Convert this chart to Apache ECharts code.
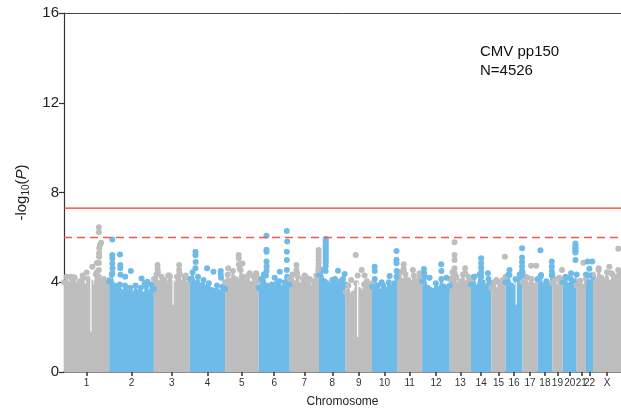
<!DOCTYPE html>
<html><head><meta charset="utf-8">
<script src="https://cdn.jsdelivr.net/npm/echarts@6/dist/echarts.min.js"></script>
<style>html,body{margin:0;padding:0;background:#fff}#c{width:621px;height:415px}</style>
</head><body><div id="c"></div>
<script>
const chromNames = ['1','2','3','4','5','6','7','8','9','10','11','12','13','14','15','16','17','18','19','20','21','22','X'];
const chromLen = [249,246,198,194,185,171,161,147,145,138,138,152,117,112,79,93,83,80,58,77,51,39,154];
const bulkTop = [
  [4.0,4.25,3.9,4.15,4.2,3.85,4.05,4.3,3.8,4.15,4.0,3.75,4.35,4.05,3.9,4.15,4.0,4.1],
  [4.05,4.35,3.85,3.7,3.9,3.55,3.85,3.65,3.75,3.5,3.85,3.55,3.75,3.45,3.8,3.55,3.9,3.7],
  [4.15,4.35,3.95,4.25,4.1,3.9,4.3,4.0,3.85,4.25,4.35,3.95,4.2,3.9,4.15],
  [4.15,4.45,3.95,4.25,3.85,4.1,3.75,3.95,3.65,3.6,3.85,3.55,3.8,3.7],
  [4.0,4.35,4.05,4.5,4.15,3.95,4.55,4.25,4.05,4.3,3.9,4.25,4.4,4.1],
  [3.75,4.15,4.35,3.85,3.65,3.9,3.7,3.95,4.05,3.75,4.0,4.25,3.9],
  [4.15,4.35,3.95,4.25,3.85,4.15,4.25,3.9,3.75,4.05,4.3,4.45],
  [4.35,4.55,4.05,3.95,3.85,4.1,4.15,3.9,4.05,4.15,3.9],
  [3.55,3.85,3.35,3.5,3.95,3.65,3.5,3.9,4.05,3.8,3.95],
  [3.8,4.15,3.85,3.6,3.85,3.65,4.0,3.75,3.95,4.25],
  [4.25,4.45,4.05,4.35,4.1,3.95,4.3,4.05,4.25,4.0],
  [4.05,4.25,3.75,3.65,3.6,3.95,3.7,4.15,3.8,3.65,3.85],
  [4.15,4.45,4.2,3.85,4.05,4.35,3.95,4.25,4.1],
  [3.9,4.25,3.75,4.35,4.0,3.8,4.15,3.95],
  [3.75,4.0,3.65,3.9,4.1,4.25],
  [4.0,4.35,3.85,3.75,4.05,4.35,4.45],
  [4.0,4.25,3.9,4.15,3.85,4.1],
  [4.15,4.25,3.85,4.05,3.9,4.35],
  [3.95,4.15,3.8,4.05,4.1],
  [4.0,4.25,3.85,4.15,4.0,4.35],
  [3.85,4.05,3.8,4.15],
  [4.35,4.0,4.25],
  [4.35,4.0,4.55,4.2,4.05,4.45,3.95,4.35,4.2,4.55,4.4]
];
// [chromosome index, position (Mb), -log10(P)]
const peakSnps = [
  [0,192,6.45],[0,192,6.23],[0,204,5.76],[0,198,5.66],[0,194,5.52],[0,193,5.29],[0,193,5.14],[0,192,4.86],[0,192,4.55],[0,192,4.25],[0,181,4.86],[0,181,4.45],[0,156,4.69],[0,37,4.25],[0,53,4.22],[0,107,4.2],[0,125,4.43],
  [1,17,5.91],[1,17,5.21],[1,17,5.07],[1,17,4.84],[1,18,4.62],[1,17,4.4],[1,59,5.24],[1,61,4.77],[1,61,4.62],[1,62,4.33],[1,88,4.25],[1,119,4.5],[1,178,4.17],[1,210,4.02],[1,195,3.95],
  [2,20,4.77],[2,20,4.6],[2,22,4.45],[2,79,4.3],[2,88,4.25],[2,139,4.77],[2,139,4.55],[2,141,4.4],[2,176,4.3],
  [3,31,5.36],[3,31,5.2],[3,32,4.9],[3,31,4.62],[3,95,4.62],[3,130,4.47],[3,170,4.5],[3,170,4.35],[3,172,4.2],
  [4,75,5.21],[4,75,5.07],[4,76,4.8],[4,96,4.84],[4,17,4.62],[4,173,4.32],[4,136,4.4],[4,80,4.6],
  [5,43,6.07],[5,43,5.45],[5,43,5.36],[5,43,4.92],[5,44,4.7],[5,43,4.5],[5,116,4.47],[5,155,6.28],[5,157,5.82],[5,155,5.36],[5,155,4.99],[5,155,4.55],[5,88,4.2],[5,40,4.3],
  [6,37,4.77],[6,37,4.55],[6,40,4.4],[6,82,4.3],[6,110,4.15],[6,159,5.44],[6,159,5.3],[6,159,5.15],[6,159,5.0],[6,159,4.85],[6,159,4.7],[6,157,4.55],
  [7,37,5.93],[7,37,5.85],[7,37,5.75],[7,37,5.65],[7,37,5.55],[7,37,5.45],[7,37,5.35],[7,37,5.25],[7,37,5.15],[7,37,5.05],[7,37,4.95],[7,37,4.86],[7,37,4.7],[7,37,4.5],[7,105,4.51],[7,141,4.37],
  [8,55,5.21],[8,66,4.3],[8,88,4.55],[8,104,4.3],[8,30,4.1],
  [9,14.5,4.69],[9,15,4.5],[9,53,4.0],[9,97,4.28],[9,135,5.39],[9,135,5.0],[9,135,4.85],[9,136,4.5],[9,135,4.25],
  [10,36,4.8],[10,36,4.6],[10,37,4.47],[10,87,4.55],[10,124,4.4],
  [11,10,4.59],[11,11,4.4],[11,105,4.8],[11,106,4.5],[11,41,4.2],[11,134,4.2],
  [12,26.5,5.78],[12,26.5,5.21],[12,26.5,4.99],[12,26.5,4.62],[12,27,4.4],[12,36,4.25],[12,85,4.62],[12,85,4.4],
  [13,56,5.07],[13,56,4.85],[13,56,4.65],[13,56,4.45],[13,56,4.25],[13,20,4.25],[13,93,4.4],
  [14,75,5.14],[14,41,4.0],[14,28,4.1],
  [15,90,5.52],[15,90,5.1],[15,90,4.9],[15,90,4.7],[15,90,4.5],[15,90,4.3],[15,21,4.55],[15,21,4.32],[15,54,4.15],
  [16,47,4.74],[16,75,4.74],[16,27,4.2],
  [17,15.5,5.43],[17,19,4.32],[17,78,4.92],[17,78,4.7],[17,78,4.5],[17,78,4.3],
  [18,40,4.2],[18,54,4.55],
  [19,70,5.73],[19,70,5.66],[19,70,5.59],[19,70,5.52],[19,70,5.45],[19,70,5.38],[19,70,5.33],[19,70,4.99],[19,46,4.4],[19,26,4.2],
  [20,37,4.87],[20,19,4.07],
  [21,10,4.92],[21,35,4.92],[21,19,4.6],[21,19,4.3],
  [22,31,4.62],[22,90,4.69],[22,139,5.49],[22,101,4.4]
];
// data gaps inside the dense mass: [chromosome index, position, low, high]
const dataGaps = [[0,148,1.8,4.3],[8,66,1.56,4.0],[2,106,3.0,4.2],[15,58,3.0,4.3]];
const yTicks = [0,4,8,12,16];
const thresholds = [7.3, 6.0];
const annotation = ['CMV pp150','N=4526'];
const colors = ['#bebebe','#6ebbe9'];

const starts = [];
let acc = 0;
chromLen.forEach(l => { starts.push(acc); acc += l; });
const total = acc;
const centers = chromLen.map((l,i) => starts[i] + l/2);

const series = [];
bulkTop.forEach((vals,i) => {
  const n = vals.length;
  const data = vals.map((v,k) => [starts[i] + chromLen[i]*k/(n-1), v]);
  series.push({
    type:'line', data, silent:true, animation:false,
    symbol:'circle', symbolSize:6, showSymbol:true, showAllSymbol:true,
    itemStyle:{color:colors[i%2]}, lineStyle:{color:colors[i%2], width:1},
    areaStyle:{color:colors[i%2], opacity:1}, z:2
  });
});
dataGaps.forEach(g => {
  series.push({type:'line', data:[[starts[g[0]]+g[1], g[2]],[starts[g[0]]+g[1], g[3]]],
    symbol:'none', silent:true, animation:false, lineStyle:{color:'#fff', width:1.2}, z:3});
});
[0,1].forEach(c => {
  series.push({
    type:'scatter', animation:false, silent:true, z:4,
    symbolSize:6, itemStyle:{color:colors[c], opacity:1},
    data: peakSnps.filter(p => p[0]%2===c).map(p => [starts[p[0]]+p[1], p[2]])
  });
});
series.push({
  type:'line', silent:true, animation:false, z:5, symbol:'none',
  data:[[0,thresholds[0]],[total,thresholds[0]]],
  itemStyle:{color:'#f2382a'},
  lineStyle:{color:'#f2382a', width:1.2, type:'solid'}
});
series.push({
  type:'line', silent:true, animation:false, z:5, symbol:'none',
  data:[[0,thresholds[1]],[total,thresholds[1]]],
  itemStyle:{color:'#f25a4e'},
  lineStyle:{color:'#f25a4e', width:1.5, type:[8,5]}
});

const chart = echarts.init(document.getElementById('c'), null, {renderer:'canvas'});
chart.setOption({
  animation:false,
  grid:{left:64, right:0, top:13, bottom:43, containLabel:false},
  xAxis:[{
    type:'value', min:0, max:total, position:'bottom',
    name:'Chromosome', nameLocation:'middle', nameGap:24,
    nameTextStyle:{fontSize:12, color:'#222', fontFamily:'Liberation Sans'},
    axisLine:{show:true, lineStyle:{color:'#666', width:1.5}},
    axisTick:{show:true, customValues:centers, length:4, lineStyle:{color:'#333', width:1.5}},
    axisLabel:{show:true, customValues:centers, fontSize:10, color:'#333', margin:6, fontFamily:'Liberation Sans',
      formatter: v => { const i = centers.findIndex(c => Math.abs(c-v) < 0.01); return i>=0 ? chromNames[i] : ''; }},
    splitLine:{show:false}
  },{
    type:'value', min:0, max:1, position:'top',
    axisLine:{show:true, lineStyle:{color:'#444', width:1}},
    axisTick:{show:false}, axisLabel:{show:false}, splitLine:{show:false}
  }],
  yAxis:{
    type:'value', min:yTicks[0], max:yTicks[yTicks.length-1], interval:4,
    name:'{a|-log}{s|10}{a|(}{i|P}{a|)}', nameLocation:'middle', nameGap:32, nameRotate:90,
    nameTextStyle:{ rich:{
      a:{fontSize:15, color:'#222', fontFamily:'Liberation Sans', lineHeight:20, verticalAlign:'middle'},
      s:{fontSize:10, color:'#222', fontFamily:'Liberation Sans', lineHeight:12, verticalAlign:'bottom'},
      i:{fontSize:15, color:'#222', fontFamily:'Liberation Sans', fontStyle:'italic', lineHeight:20, verticalAlign:'middle'}
    }},
    axisLine:{show:true, lineStyle:{color:'#333', width:1.2}},
    axisTick:{show:true, length:5, lineStyle:{color:'#333', width:1.2}},
    axisLabel:{fontSize:15, color:'#222', margin:5, fontFamily:'Liberation Sans'},
    splitLine:{show:false}
  },
  graphic:[{
    type:'text', left:480, top:42, silent:true,
    style:{text:annotation.join('\n'), fontSize:15, lineHeight:19, fill:'#111', fontFamily:'Liberation Sans'}
  }],
  series
});
</script></body></html>
